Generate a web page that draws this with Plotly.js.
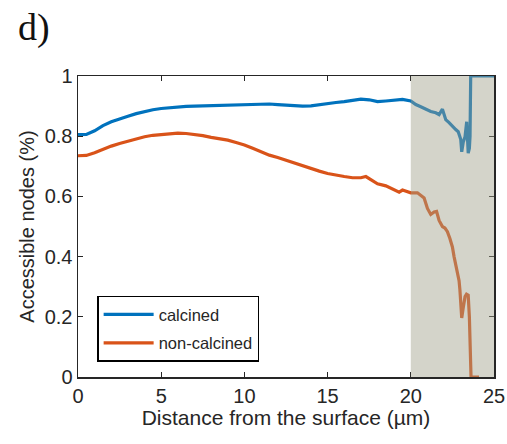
<!DOCTYPE html>
<html>
<head>
<meta charset="utf-8">
<script src="https://cdn.plot.ly/plotly-3.0.1.min.js"></script>
<style>html,body{margin:0;padding:0;background:#fff;}#chart{width:507px;height:444px;}</style>
</head>
<body>
<div id="chart"></div>
<script>
// Calcined series
const calcinedX = [0, 0.5, 1, 1.5, 2, 2.5, 3, 3.5, 4, 4.5, 5, 5.5, 6, 6.5, 7, 7.5, 8, 8.5, 9, 9.5, 10, 10.5, 11, 11.5, 12, 12.5, 13, 13.5, 14, 14.5, 15, 15.5, 16, 16.5, 17, 17.5, 18, 18.5, 19, 19.5, 20, 20.3, 20.6, 20.9, 21.2, 21.5, 21.7, 21.9, 22.1, 22.3, 22.5, 22.7, 22.85, 23.0, 23.06, 23.15, 23.26, 23.36, 23.45, 23.52, 23.56, 23.6, 24, 24.5, 25];
const calcinedY = [0.805, 0.806, 0.818, 0.835, 0.848, 0.858, 0.866, 0.875, 0.882, 0.888, 0.892, 0.895, 0.897, 0.899, 0.900, 0.901, 0.902, 0.903, 0.903, 0.904, 0.905, 0.905, 0.906, 0.907, 0.905, 0.903, 0.901, 0.900, 0.901, 0.905, 0.910, 0.912, 0.915, 0.920, 0.923, 0.921, 0.915, 0.917, 0.920, 0.922, 0.917, 0.905, 0.898, 0.890, 0.882, 0.878, 0.872, 0.890, 0.855, 0.845, 0.832, 0.822, 0.815, 0.790, 0.748, 0.780, 0.798, 0.848, 0.744, 0.760, 0.800, 1.0, 1.0, 1.0, 1.0];
// Non-calcined series
const nonCalcinedX = [0, 0.5, 1, 1.5, 2, 2.5, 3, 3.5, 4, 4.5, 5, 5.5, 6, 6.5, 7, 7.5, 8, 8.5, 9, 9.5, 10, 10.5, 11, 11.5, 12, 12.5, 13, 13.5, 14, 14.5, 15, 15.5, 16, 16.5, 17, 17.3, 17.5, 18, 18.5, 19, 19.3, 19.5, 19.8, 20, 20.4, 20.8, 21.0, 21.2, 21.4, 21.55, 21.7, 21.9, 22.05, 22.2, 22.35, 22.5, 22.6, 22.7, 22.8, 22.9, 22.95, 23.0, 23.06, 23.15, 23.26, 23.35, 23.45, 23.52, 23.56, 23.6, 23.62, 24.1];
const nonCalcinedY = [0.735, 0.736, 0.745, 0.757, 0.767, 0.776, 0.784, 0.791, 0.798, 0.803, 0.806, 0.808, 0.810, 0.809, 0.806, 0.802, 0.796, 0.791, 0.787, 0.779, 0.771, 0.760, 0.749, 0.737, 0.729, 0.720, 0.710, 0.700, 0.692, 0.684, 0.676, 0.670, 0.666, 0.662, 0.662, 0.666, 0.659, 0.642, 0.635, 0.622, 0.614, 0.621, 0.615, 0.612, 0.612, 0.595, 0.560, 0.540, 0.548, 0.550, 0.520, 0.500, 0.495, 0.483, 0.460, 0.432, 0.400, 0.375, 0.350, 0.320, 0.290, 0.250, 0.196, 0.230, 0.267, 0.275, 0.272, 0.200, 0.113, 0.030, 0.0, 0.0];
const seriesNames = ["calcined", "non-calcined"];
const xTicks = [0, 5, 10, 15, 20, 25];
const yTicks = [0, 0.2, 0.4, 0.6, 0.8, 1];
const yTickText = ["0", "0.2", "0.4", "0.6", "0.8", "1"];
const shadeRange = [20, 25];

const FONT = "Liberation Sans, Arial, sans-serif";
const traces = [
  {x: calcinedX, y: calcinedY, name: seriesNames[0], legendgroup: "a", mode: "lines", line: {color: "#0072BD", width: 3.2}},
  {x: nonCalcinedX, y: nonCalcinedY, name: seriesNames[1], legendgroup: "b", mode: "lines", line: {color: "#D95319", width: 3.2}}
];

const axisCommon = {
  showline: true, linecolor: "#262626", linewidth: 1.5, mirror: "ticks",
  ticks: "inside", ticklen: 5, tickwidth: 1.2, tickcolor: "#262626",
  showgrid: false, zeroline: false,
  tickfont: {family: FONT, size: 20, color: "#262626"}
};

const layout = {
  width: 507, height: 444,
  paper_bgcolor: "#fff", plot_bgcolor: "#fff",
  margin: {l: 78, r: 13, t: 76, b: 67},
  showlegend: true,
  legend: {
    x: 0.046, y: 0.27, xanchor: "left", yanchor: "top",
    bordercolor: "#000", borderwidth: 1.5, bgcolor: "#fff",
    itemwidth: 50, tracegroupgap: 4,
    font: {family: FONT, size: 16.5, color: "#262626"}
  },
  xaxis: Object.assign({}, axisCommon, {
    range: [0, 25], tickvals: xTicks,
    title: {text: "Distance from the surface (µm)", standoff: 2, font: {family: FONT, size: 21, color: "#262626"}}
  }),
  yaxis: Object.assign({}, axisCommon, {
    range: [0, 1], tickvals: yTicks, ticktext: yTickText,
    title: {text: "Accessible nodes (%)", standoff: 4, font: {family: FONT, size: 20, color: "#262626"}}
  }),
  shapes: [{
    type: "rect", xref: "x", yref: "paper", x0: shadeRange[0], x1: shadeRange[1], y0: 0, y1: 1,
    fillcolor: "rgb(160,160,138)", opacity: 0.45, line: {width: 0}, layer: "above"
  }],
  annotations: [{
    text: "d)", xref: "paper", yref: "paper", x: -0.149, y: 1.238, xanchor: "left", yanchor: "top",
    showarrow: false, font: {family: "Liberation Serif, Times New Roman, serif", size: 38, color: "#111"}
  }]
};

Plotly.newPlot("chart", traces, layout, {displayModeBar: false, staticPlot: true});
</script>
</body>
</html>
